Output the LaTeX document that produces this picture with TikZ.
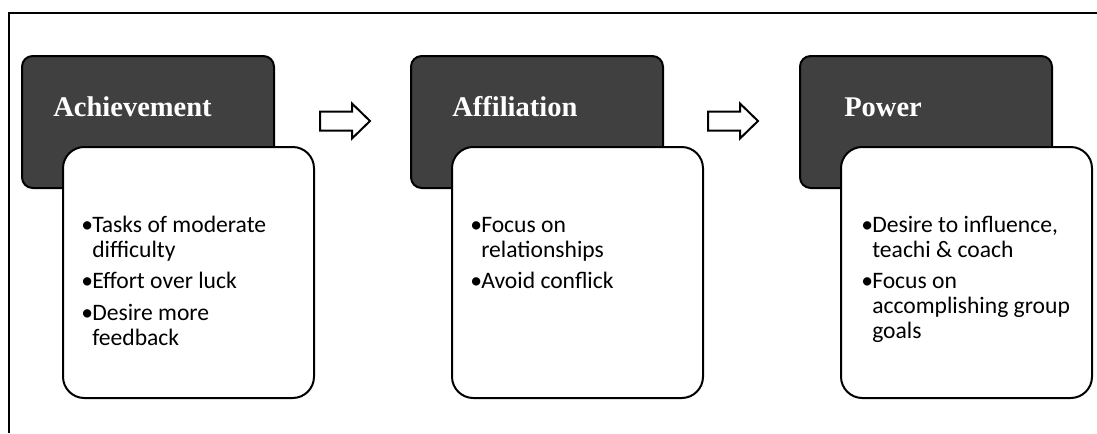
\documentclass[tikz,border=0pt]{standalone}
\usepackage{fontspec}
\setmainfont{Liberation Serif}
\newfontfamily\listfont{Carlito}
\definecolor{headgrey}{RGB}{64,64,64}
\newcommand{\bul}{\makebox[8.25pt][l]{•}}
\newcommand{\ind}{\hspace*{8.25pt}}
\begin{document}
\begin{tikzpicture}[x=0.75pt,y=-0.75pt,
  headbox/.style={draw=black, line width=1.5pt, fill=headgrey, rounded corners=8pt,
    anchor=north west, minimum width=189pt, minimum height=99pt, inner sep=0pt},
  bodybox/.style={draw=black, line width=1.5pt, fill=white, rounded corners=16pt,
    anchor=north west, minimum width=188.25pt, minimum height=188.25pt, inner sep=0pt},
  title/.style={anchor=base west, inner sep=0pt, text=white,
    font=\bfseries\fontsize{21.4pt}{24pt}\selectfont},
  % multi-line lists: the base anchor sits on the last line
  listtext/.style={anchor=base west, inner sep=0pt, align=left,
    font=\listfont\fontsize{17.7pt}{18.75pt}\selectfont},
  blockarrow/.style={draw=black, line width=1.5pt, fill=white, line join=miter}]
\useasboundingbox (0,0) rectangle (1097,433);

% outer frame (top and left edges)
\draw[line width=1.5pt] (9,433) -- (9,13) -- (1097,13);

% Achievement
\node[headbox] (h1) at (21,55) {};
\node[title] (t1) at (53,116) {Achievement};
\node[bodybox] (b1) at (62,146) {};
\node[listtext] (l1) at (81,345.4) {\bul Tasks of moderate\\\ind difficulty\\[5pt]\bul Effort over luck\\[5pt]\bul Desire more\\\ind feedback};

% Affiliation
\node[headbox] (h2) at (410,55) {};
\node[title] (t2) at (452,116) {Affiliation};
\node[bodybox] (b2) at (451,146) {};
\node[listtext] (l2) at (470,288.7) {\bul Focus on\\\ind relationships\\[5pt]\bul Avoid conflick};

% Power
\node[headbox] (h3) at (799,55) {};
\node[title] (t3) at (844,116) {Power};
\node[bodybox] (b3) at (840,146) {};
\node[listtext] (l3) at (861,338.7) {\bul Desire to influence,\\\ind teachi \& coach\\[5pt]\bul Focus on\\\ind accomplishing group\\\ind goals};

% block arrows between the stages
\coordinate (a1) at (320,121);
\coordinate (a2) at (708,121);
\foreach \a in {a1,a2}{
  \draw[blockarrow] (\a) ++(0,-9.5) -- ++(32,0) -- ++(0,-8) -- ++(18,17.5)
    -- ++(-18,17.5) -- ++(0,-8) -- ++(-32,0) -- cycle;
}
\end{tikzpicture}
\end{document}
